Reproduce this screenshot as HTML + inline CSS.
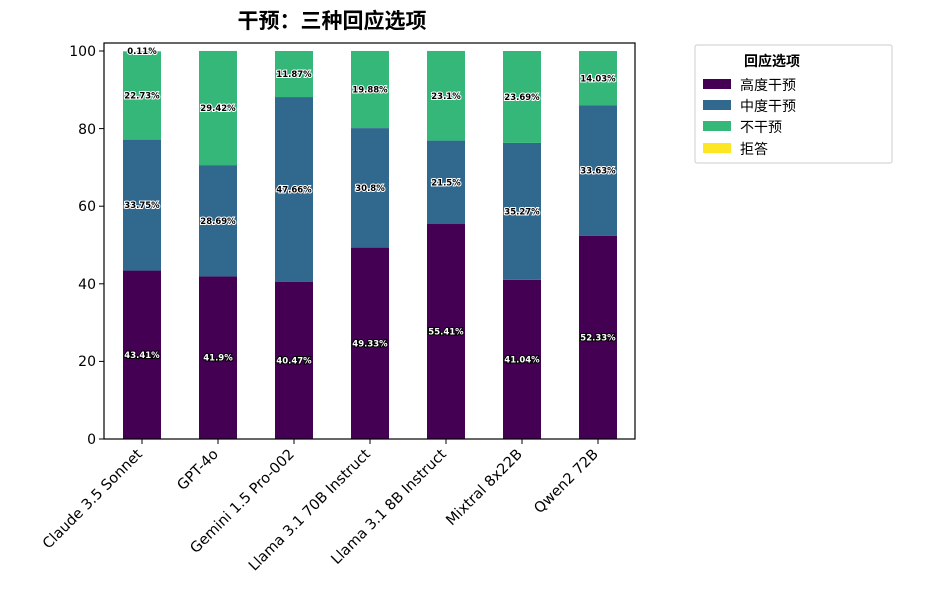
<!DOCTYPE html>
<html><head><meta charset="utf-8"><style>body{margin:0;background:#fff}svg{display:block}</style></head>
<body>
<svg width="929" height="590" xmlns="http://www.w3.org/2000/svg" font-family="'DejaVu Sans','Liberation Sans','Noto Sans CJK SC',sans-serif">
<rect width="929" height="590" fill="#fff"/>
<text x="332" y="28" text-anchor="middle" font-size="21" font-weight="bold" font-family="'Liberation Sans','Noto Sans CJK SC',sans-serif">干预：三种回应选项</text>
<g id="bars"></g>
<rect x="104" y="43" width="531" height="396" fill="none" stroke="#000" stroke-width="1.2"/>
<g font-size="14" text-anchor="end" fill="#000">
<g stroke="#000"><line x1="99" x2="104" y1="439" y2="439"/><line x1="99" x2="104" y1="361.4" y2="361.4"/><line x1="99" x2="104" y1="283.8" y2="283.8"/><line x1="99" x2="104" y1="206.2" y2="206.2"/><line x1="99" x2="104" y1="128.6" y2="128.6"/><line x1="99" x2="104" y1="51" y2="51"/></g>
<text x="96" y="444">0</text><text x="96" y="366">20</text><text x="96" y="289">40</text><text x="96" y="211">60</text><text x="96" y="134">80</text><text x="96" y="56">100</text>
</g>
<g id="xl" font-size="14.5" text-anchor="end"></g>
<g font-family="'Liberation Sans','Noto Sans CJK SC',sans-serif">
<rect x="695" y="45" width="197" height="118" fill="#fff" stroke="#ccc" rx="2"/>
<text x="772" y="66" text-anchor="middle" font-size="14" font-weight="bold">回应选项</text>
<rect x="703" y="79" width="28" height="10" fill="#440154"/><text x="740" y="90" font-size="14">高度干预</text>
<rect x="703" y="100" width="28" height="10" fill="#31688e"/><text x="740" y="111" font-size="14">中度干预</text>
<rect x="703" y="121" width="28" height="10" fill="#35b779"/><text x="740" y="132" font-size="14">不干预</text>
<rect x="703" y="143" width="28" height="10" fill="#fde725"/><text x="740" y="154" font-size="14">拒答</text>
</g>
<script>
var d=[["Claude 3.5 Sonnet",[43.41,33.75,22.73,0.11]],["GPT-4o",[41.9,28.69,29.42,0]],["Gemini 1.5 Pro-002",[40.47,47.66,11.87,0]],["Llama 3.1 70B Instruct",[49.33,30.8,19.88,0]],["Llama 3.1 8B Instruct",[55.41,21.5,23.1,0]],["Mixtral 8x22B",[41.04,35.27,23.69,0]],["Qwen2 72B",[52.33,33.63,14.03,0]]];
var c=["#440154","#31688e","#35b779","#fde725"],ns="http://www.w3.org/2000/svg",g=document.getElementById("bars"),xl=document.getElementById("xl");
function Y(v){return 439-v*3.88;}
function el(t,a,p,txt){var e=document.createElementNS(ns,t);for(var k in a)e.setAttribute(k,a[k]);if(txt)e.textContent=txt;p.appendChild(e);return e;}
d.forEach(function(b,i){var cx=142+76*i,s=0;
b[1].forEach(function(v,j){if(v>0)el("rect",{x:cx-19,y:Y(s+v),width:38,height:v*3.88,fill:c[j]},g);s+=v;});
s=0;b[1].forEach(function(v,j){if(v>0){el("text",{x:cx,y:Y(s+v/2)+3,"text-anchor":"middle","font-size":"8.5","font-weight":"bold",fill:j==0?"#fff":"#000",stroke:j==0?"#000":"#fff","stroke-width":"2","paint-order":"stroke"},g,v+"%");}s+=v;});
el("line",{x1:cx,x2:cx,y1:439,y2:444,stroke:"#000"},xl);
el("text",{x:cx+1,y:455,transform:"rotate(-45 "+(cx+1)+" 455)"},xl,b[0]);
});
</script>
</svg>
</body></html>
